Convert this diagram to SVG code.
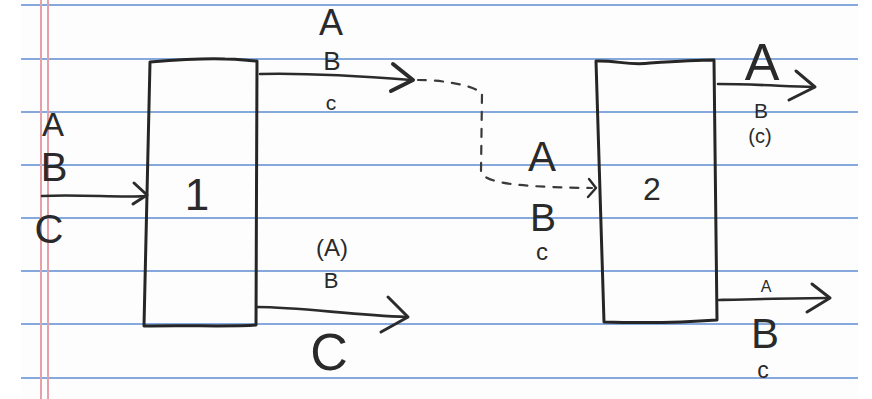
<svg xmlns="http://www.w3.org/2000/svg" width="872" height="399" viewBox="0 0 872 399">
<style>
.rule{stroke:#86a9dd;stroke-width:2.2;fill:none}
.margin{stroke:#e6a0aa;stroke-width:2;fill:none}
.box{stroke:#262626;stroke-width:3;fill:none;stroke-linejoin:round}
.wire{stroke:#2b2b2b;stroke-width:2.6;fill:none;stroke-linecap:round}
.head{stroke:#2b2b2b;stroke-width:3;fill:none;stroke-linecap:round;stroke-linejoin:round}
.dash{stroke:#3a3a3a;stroke-width:2.2;fill:none;stroke-dasharray:8 9;stroke-linecap:round}
text{font-family:"Liberation Sans","DejaVu Sans",sans-serif;fill:#2a2a2a;text-anchor:middle}
</style>
<rect x="0" y="0" width="872" height="399" fill="#ffffff"/>
<g id="paper">
<rect x="21" y="0" width="837" height="399" fill="#fdfdfe"/>
<path class="rule" d="M21,5H858M21,59H858M21,112H858M21,165H858M21,218H858M21,271H858M21,324H858M21,378H858"/>
<path class="margin" d="M41,0V399M48,0V399"/>
</g>
<g id="node-1">
<path class="box" d="M150,62 C175,60 200,58 225,59 C240,59 250,61 257,61 L256,325 C230,327 190,325 144,326 Z"/>
<text x="197" y="210" font-size="44">1</text>
</g>
<g id="node-2">
<path class="box" d="M596,61 C615,60 630,66 650,63 C680,61 700,60 714,60 L717,320 C690,322 640,323 604,322 Z"/>
<text x="652" y="200" font-size="32">2</text>
</g>
<g id="connectors">
<path class="wire" d="M42,196 C80,194 120,198 146,196"/>
<path class="head" d="M134,183 L147,195 L133,204"/>
<path class="wire" d="M260,74 C300,73 360,76 411,80"/>
<path class="head" d="M393,64 L413,80 L391,91" style="stroke-width:4"/>
<path class="dash" d="M418,80 C440,80 470,84 482,93 L481,172 C485,182 510,187 592,188"/>
<path class="head" d="M589,179 L596,188 L588,197" style="stroke-width:2.4"/>
<path class="wire" d="M257,307 C300,307 350,315 407,317"/>
<path class="head" d="M388,297 L408,317 L381,332"/>
<path class="wire" d="M718,84 C750,84 780,86 814,87"/>
<path class="head" d="M796,71 L815,87 L789,100"/>
<path class="wire" d="M719,300 C760,299 800,298 829,298"/>
<path class="head" d="M812,284 L830,298 L807,312"/>
</g>
<g id="labels">
<text x="53" y="136" font-size="33">A</text>
<text x="54" y="181" font-size="40">B</text>
<text x="49" y="243" font-size="40">C</text>
<text x="331" y="35" font-size="36">A</text>
<text x="332" y="70" font-size="26">B</text>
<text x="331" y="110" font-size="21">c</text>
<text x="542" y="171" font-size="42">A</text>
<text x="543" y="231" font-size="39">B</text>
<text x="542" y="260" font-size="24">c</text>
<text x="332" y="256" font-size="24">(A)</text>
<text x="331" y="288" font-size="22">B</text>
<text x="329" y="370" font-size="52">C</text>
<text x="762" y="80" font-size="52">A</text>
<text x="761" y="118" font-size="21">B</text>
<text x="760" y="143" font-size="20">(c)</text>
<text x="766" y="292" font-size="16">A</text>
<text x="765" y="348" font-size="42">B</text>
<text x="763" y="378" font-size="23">c</text>
</g>
</svg>
